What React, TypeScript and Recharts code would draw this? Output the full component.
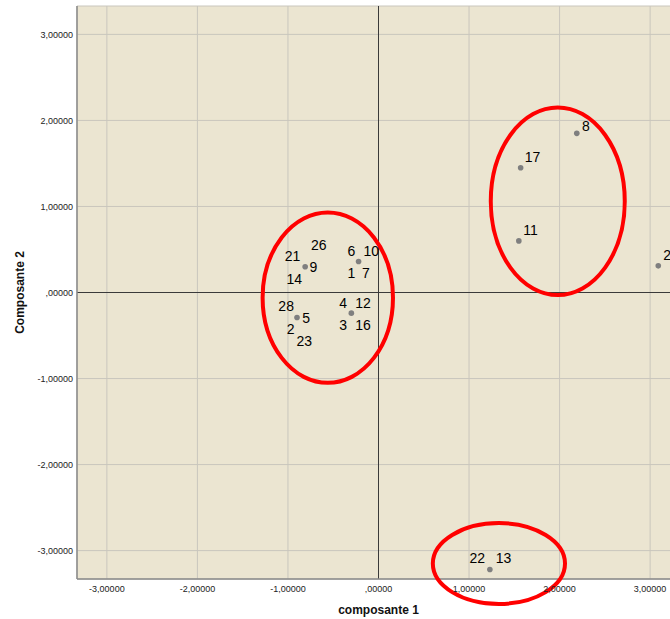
import { CartesianGrid, ReferenceLine, Scatter, ScatterChart, XAxis, YAxis } from 'recharts'

// component scores, one dot per group of overlapping cases
const points = [
  { x: -0.81, y: 0.3 },
  { x: -0.22, y: 0.36 },
  { x: -0.9, y: -0.29 },
  { x: -0.3, y: -0.24 },
  { x: 2.19, y: 1.85 },
  { x: 1.57, y: 1.45 },
  { x: 1.55, y: 0.6 },
  { x: 3.09, y: 0.31 },
  { x: 1.23, y: -3.22 },
]

// case numbers, placed where the label sits
const caseLabels = [
  { name: '21', x: -0.95, y: 0.43 },
  { name: '26', x: -0.66, y: 0.55 },
  { name: '9', x: -0.72, y: 0.3 },
  { name: '14', x: -0.93, y: 0.16 },
  { name: '6', x: -0.3, y: 0.48 },
  { name: '10', x: -0.08, y: 0.48 },
  { name: '1', x: -0.3, y: 0.23 },
  { name: '7', x: -0.14, y: 0.23 },
  { name: '28', x: -1.02, y: -0.16 },
  { name: '5', x: -0.8, y: -0.3 },
  { name: '2', x: -0.97, y: -0.42 },
  { name: '23', x: -0.82, y: -0.56 },
  { name: '4', x: -0.39, y: -0.12 },
  { name: '12', x: -0.17, y: -0.12 },
  { name: '3', x: -0.39, y: -0.38 },
  { name: '16', x: -0.17, y: -0.38 },
  { name: '8', x: 2.29, y: 1.93 },
  { name: '17', x: 1.7, y: 1.58 },
  { name: '11', x: 1.68, y: 0.73 },
  { name: '20', x: 3.23, y: 0.44 },
  { name: '22', x: 1.09, y: -3.09 },
  { name: '13', x: 1.38, y: -3.09 },
]

// hand-drawn groupings (centre and radii in score units)
const groups = [
  { x: -0.56, y: -0.06, rx: 0.72, ry: 0.99 },
  { x: 1.98, y: 1.06, rx: 0.74, ry: 1.09 },
  { x: 1.33, y: -3.15, rx: 0.73, ry: 0.47 },
]

const xTicks = [-3, -2, -1, 0, 1, 2, 3]
const yTicks = [-3, -2, -1, 0, 1, 2, 3]

const X_DOMAIN: [number, number] = [-3.33, 3.33]
const Y_DOMAIN: [number, number] = [-3.33, 3.33]

const W = 700
const H = 619
const MARGIN = { top: 6, right: 20, bottom: 0, left: 0 }
const Y_AXIS_W = 77
const X_AXIS_H = 40
const pxPerX = (W - MARGIN.left - MARGIN.right - Y_AXIS_W) / (X_DOMAIN[1] - X_DOMAIN[0])
const pxPerY = (H - MARGIN.top - MARGIN.bottom - X_AXIS_H) / (Y_DOMAIN[1] - Y_DOMAIN[0])

const FONT = 'Arial, "Liberation Sans", sans-serif'

const fmt = (v: number) => {
  if (v === 0) return ',00000'
  return v.toFixed(5).replace('.', ',')
}

export default function App() {
  return (
    <div style={{ position: 'fixed', left: 0, top: 0, width: 670, height: 619, overflow: 'hidden', background: '#fff' }}>
      <ScatterChart width={W} height={H} margin={MARGIN}>
        <CartesianGrid fill="#ebe5d1" stroke="#c9c6bd" strokeWidth={1} />
        <XAxis
          type="number"
          dataKey="x"
          domain={X_DOMAIN}
          ticks={xTicks}
          tickFormatter={fmt}
          height={X_AXIS_H}
          tickLine={false}
          tickSize={5}
          tickMargin={2}
          axisLine={{ stroke: '#8a8a8a', strokeWidth: 1.5 }}
          tick={{ fontSize: 9, fill: '#222', fontFamily: FONT }}
          label={(p: any) => (
            <text
              x={p.viewBox.x + p.viewBox.width / 2}
              y={614}
              textAnchor="middle"
              fontSize={12}
              fontWeight="bold"
              fontFamily={FONT}
              fill="#111"
            >
              composante 1
            </text>
          )}
        />
        <YAxis
          type="number"
          dataKey="y"
          domain={Y_DOMAIN}
          ticks={yTicks}
          tickFormatter={fmt}
          width={Y_AXIS_W}
          tickLine={false}
          tickSize={2}
          tickMargin={2}
          axisLine={{ stroke: '#8a8a8a', strokeWidth: 1.5 }}
          tick={{ fontSize: 9, fill: '#222', fontFamily: FONT }}
          label={(p: any) => {
            const cy = p.viewBox.y + p.viewBox.height / 2
            return (
              <text
                x={24}
                y={cy}
                transform={`rotate(-90, 24, ${cy})`}
                textAnchor="middle"
                fontSize={12}
                fontWeight="bold"
                fontFamily={FONT}
                fill="#111"
              >
                Composante 2
              </text>
            )
          }}
        />
        <ReferenceLine x={0} stroke="#3a3a3a" strokeWidth={1} />
        <ReferenceLine y={0} stroke="#3a3a3a" strokeWidth={1} />
        <Scatter
          data={points}
          isAnimationActive={false}
          shape={(p: any) => <circle cx={p.cx} cy={p.cy} r={2.8} fill="#7f7f7f" />}
        />
        <Scatter
          data={caseLabels}
          isAnimationActive={false}
          shape={(p: any) => (
            <text x={p.cx} y={p.cy} dy="0.36em" textAnchor="middle" fontSize={14} fontFamily={FONT} fill="#000">
              {p.payload.name}
            </text>
          )}
        />
        <Scatter
          data={groups}
          isAnimationActive={false}
          shape={(p: any) => (
            <ellipse
              cx={p.cx}
              cy={p.cy}
              rx={p.payload.rx * pxPerX}
              ry={p.payload.ry * pxPerY}
              fill="none"
              stroke="#ff0000"
              strokeWidth={4}
            />
          )}
        />
      </ScatterChart>
    </div>
  )
}
